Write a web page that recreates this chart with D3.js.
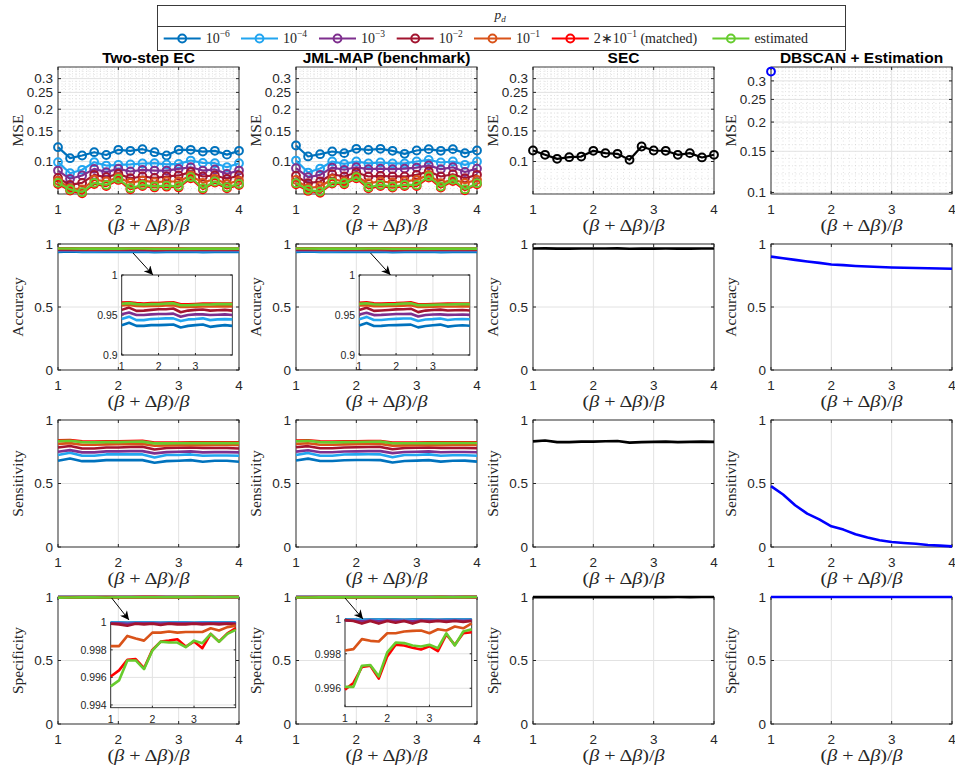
<!DOCTYPE html>
<meta charset="utf-8">
<head>
<script src="https://cdn.jsdelivr.net/npm/d3@7"></script>
<style>
body { margin:0; background:#fff; }
svg text { font-family: "Liberation Sans", Arial, Helvetica, sans-serif; fill:#262626; }
svg text.tex { font-family: "Liberation Serif", "Times New Roman", serif; }
</style>
</head>
<body>
<svg id="fig" width="955" height="769"></svg>
<script>

// ---- data ----
var betaRatio = [1, 1.2, 1.4, 1.6, 1.8, 2, 2.2, 2.4, 2.6, 2.8, 3, 3.2, 3.4, 3.6, 3.8, 4];

var methodTitles = ['Two-step EC', 'JML-MAP (benchmark)', 'SEC', 'DBSCAN + Estimation'];
var metricLabels = ['MSE', 'Accuracy', 'Sensitivity', 'Specificity'];

var legendBase   = ['10', '10', '10', '10', '10', '2\u221710', 'estimated'];
var legendExp    = ['\u22126', '\u22124', '\u22123', '\u22122', '\u22121', '\u22121', ''];
var legendSuffix = ['', '', '', '', '', ' (matched)', ''];
var seriesColors = ['#0072BD', '#22A5F0', '#7E2F8E', '#A2142F', '#D95319', '#FF0000', '#66CC2E'];

var xTicks = [1, 2, 3, 4];
var mseTicks = [0.1, 0.15, 0.2, 0.25, 0.3];
var mseTickLabels = ['0.1', '0.15', '0.2', '0.25', '0.3'];
var rateTicks = [0, 0.5, 1];
var rateTickLabels = ['0', '0.5', '1'];

// rows: 10^-6, 10^-4, 10^-3, 10^-2, 10^-1, 2*10^-1 (matched), estimated
var ecMSE = [
  [0.1209,0.1045,0.1083,0.1131,0.1090,0.1168,0.1152,0.1177,0.1131,0.1083,0.1168,0.1168,0.1140,0.1152,0.1095,0.1152],
  [0.0991,0.0856,0.0896,0.0991,0.0948,0.0957,0.0962,0.0974,0.0978,0.0962,0.0969,0.1013,0.0982,0.0978,0.0927,0.0978],
  [0.0887,0.0795,0.0831,0.0907,0.0868,0.0907,0.0876,0.0896,0.0887,0.0887,0.0907,0.0927,0.0887,0.0900,0.0849,0.0887],
  [0.0805,0.0733,0.0753,0.0838,0.0812,0.0849,0.0801,0.0820,0.0805,0.0820,0.0831,0.0868,0.0820,0.0831,0.0795,0.0831],
  [0.0777,0.0702,0.0690,0.0787,0.0767,0.0812,0.0753,0.0777,0.0760,0.0767,0.0767,0.0831,0.0753,0.0795,0.0743,0.0777],
  [0.0742,0.0680,0.0656,0.0742,0.0722,0.0783,0.0692,0.0722,0.0709,0.0716,0.0709,0.0800,0.0692,0.0756,0.0700,0.0732],
  [0.0753,0.0690,0.0666,0.0753,0.0733,0.0795,0.0702,0.0733,0.0720,0.0727,0.0720,0.0812,0.0702,0.0767,0.0711,0.0743]
];
var jmlMSE = [
  [0.1236,0.1069,0.1102,0.1142,0.1117,0.1183,0.1167,0.1183,0.1152,0.1107,0.1157,0.1178,0.1152,0.1178,0.1117,0.1157],
  [0.1013,0.0864,0.0911,0.1000,0.0969,0.1000,0.0975,0.0987,0.0975,0.0975,0.1000,0.1022,0.0987,0.1000,0.0957,0.1000],
  [0.0915,0.0812,0.0838,0.0923,0.0896,0.0927,0.0903,0.0910,0.0903,0.0910,0.0923,0.0950,0.0903,0.0927,0.0870,0.0910],
  [0.0827,0.0750,0.0767,0.0845,0.0820,0.0864,0.0820,0.0827,0.0820,0.0820,0.0838,0.0876,0.0820,0.0845,0.0801,0.0838],
  [0.0784,0.0702,0.0718,0.0791,0.0767,0.0820,0.0750,0.0767,0.0757,0.0767,0.0784,0.0838,0.0750,0.0791,0.0750,0.0784],
  [0.0739,0.0677,0.0661,0.0746,0.0739,0.0800,0.0700,0.0722,0.0707,0.0722,0.0722,0.0808,0.0707,0.0772,0.0683,0.0739],
  [0.0750,0.0687,0.0671,0.0757,0.0750,0.0812,0.0711,0.0733,0.0718,0.0733,0.0733,0.0820,0.0718,0.0784,0.0693,0.0750]
];
var secMSE = [0.1157,0.1093,0.1036,0.1059,0.1068,0.1152,0.1117,0.1107,0.1022,0.1220,0.1157,0.1152,0.1093,0.1117,0.1055,0.1093];
var dbMSE = [0.329,null,null,null,null,null,null,null,null,null,null,null,null,null,null,null];

var ecAcc = [
  [0.9373,0.9403,0.9364,0.9364,0.9373,0.9373,0.9377,0.9381,0.9343,0.9364,0.9373,0.9381,0.9352,0.9364,0.9373,0.9364],
  [0.9449,0.9479,0.9436,0.9436,0.9449,0.9453,0.9458,0.9458,0.9424,0.9445,0.9449,0.9458,0.9436,0.9445,0.9449,0.9445],
  [0.9508,0.9530,0.9500,0.9500,0.9508,0.9513,0.9513,0.9517,0.9479,0.9500,0.9508,0.9508,0.9500,0.9504,0.9508,0.9500],
  [0.9564,0.9593,0.9551,0.9555,0.9564,0.9572,0.9572,0.9581,0.9534,0.9555,0.9564,0.9568,0.9555,0.9559,0.9564,0.9555],
  [0.9620,0.9625,0.9612,0.9610,0.9612,0.9614,0.9618,0.9622,0.9600,0.9600,0.9603,0.9606,0.9606,0.9608,0.9608,0.9608],
  [0.9655,0.9660,0.9648,0.9644,0.9648,0.9648,0.9655,0.9660,0.9634,0.9634,0.9637,0.9642,0.9642,0.9644,0.9644,0.9644],
  [0.9640,0.9648,0.9636,0.9631,0.9636,0.9636,0.9644,0.9648,0.9622,0.9622,0.9627,0.9631,0.9631,0.9636,0.9636,0.9636]
];
var jmlAcc = [
  [0.9370,0.9400,0.9362,0.9364,0.9371,0.9374,0.9377,0.9380,0.9345,0.9362,0.9372,0.9380,0.9355,0.9365,0.9372,0.9366],
  [0.9447,0.9476,0.9437,0.9438,0.9447,0.9452,0.9456,0.9457,0.9426,0.9444,0.9448,0.9456,0.9438,0.9446,0.9448,0.9446],
  [0.9506,0.9528,0.9499,0.9501,0.9507,0.9512,0.9512,0.9516,0.9481,0.9500,0.9507,0.9508,0.9501,0.9504,0.9507,0.9501],
  [0.9562,0.9590,0.9551,0.9556,0.9563,0.9570,0.9571,0.9579,0.9536,0.9555,0.9563,0.9567,0.9556,0.9559,0.9563,0.9556],
  [0.9618,0.9623,0.9611,0.9610,0.9612,0.9613,0.9617,0.9621,0.9601,0.9601,0.9603,0.9606,0.9606,0.9607,0.9608,0.9608],
  [0.9653,0.9658,0.9647,0.9644,0.9647,0.9648,0.9654,0.9658,0.9635,0.9635,0.9637,0.9641,0.9642,0.9643,0.9644,0.9644],
  [0.9639,0.9646,0.9635,0.9631,0.9635,0.9636,0.9643,0.9647,0.9623,0.9623,0.9627,0.9631,0.9631,0.9635,0.9636,0.9636]
];
var secAcc = [0.964,0.965,0.963,0.963,0.964,0.964,0.964,0.965,0.962,0.963,0.963,0.964,0.963,0.963,0.964,0.964];
var dbAcc = [0.900,0.887,0.874,0.861,0.850,0.837,0.832,0.826,0.821,0.817,0.813,0.811,0.809,0.807,0.805,0.803];

var ecSens = [
  [0.679,0.697,0.676,0.676,0.684,0.684,0.684,0.684,0.663,0.676,0.679,0.684,0.671,0.679,0.679,0.671],
  [0.724,0.742,0.718,0.718,0.729,0.729,0.729,0.729,0.705,0.724,0.724,0.729,0.718,0.721,0.721,0.718],
  [0.750,0.763,0.745,0.745,0.753,0.753,0.755,0.755,0.737,0.747,0.750,0.753,0.745,0.747,0.747,0.745],
  [0.784,0.795,0.776,0.776,0.784,0.784,0.787,0.789,0.768,0.779,0.782,0.784,0.779,0.779,0.779,0.776],
  [0.812,0.818,0.805,0.805,0.808,0.810,0.810,0.812,0.797,0.800,0.801,0.802,0.802,0.803,0.803,0.803],
  [0.840,0.842,0.832,0.830,0.832,0.832,0.834,0.836,0.822,0.822,0.823,0.824,0.824,0.824,0.824,0.824],
  [0.834,0.837,0.826,0.824,0.826,0.826,0.829,0.830,0.816,0.816,0.817,0.818,0.818,0.818,0.818,0.818]
];
var jmlSens = [
  [0.681,0.696,0.677,0.677,0.683,0.685,0.685,0.684,0.665,0.677,0.680,0.684,0.672,0.679,0.680,0.672],
  [0.725,0.741,0.719,0.719,0.728,0.729,0.730,0.729,0.707,0.724,0.725,0.729,0.719,0.722,0.722,0.719],
  [0.751,0.762,0.746,0.746,0.752,0.753,0.755,0.755,0.739,0.748,0.750,0.753,0.746,0.748,0.748,0.746],
  [0.785,0.794,0.777,0.777,0.784,0.785,0.787,0.788,0.770,0.780,0.782,0.784,0.779,0.780,0.780,0.777],
  [0.812,0.817,0.805,0.805,0.808,0.810,0.811,0.812,0.798,0.800,0.801,0.802,0.802,0.803,0.803,0.803],
  [0.839,0.841,0.832,0.830,0.832,0.833,0.834,0.835,0.822,0.823,0.823,0.824,0.824,0.825,0.825,0.825],
  [0.833,0.836,0.826,0.824,0.826,0.827,0.829,0.830,0.817,0.817,0.817,0.818,0.818,0.819,0.819,0.819]
];
var secSens = [0.832,0.838,0.826,0.826,0.830,0.830,0.833,0.835,0.822,0.826,0.828,0.830,0.826,0.828,0.830,0.828];
var dbSens = [0.479,0.413,0.329,0.263,0.218,0.163,0.137,0.100,0.074,0.053,0.039,0.032,0.026,0.016,0.011,0.005];

var ecSpec = [
  [0.99998,0.99998,0.99997,0.99998,0.99998,0.99998,0.99997,0.99998,0.99998,0.99998,0.99997,0.99998,0.99998,0.99998,0.99998,0.99998],
  [0.99996,0.99996,0.99995,0.99996,0.99996,0.99996,0.99995,0.99996,0.99996,0.99996,0.99995,0.99996,0.99996,0.99996,0.99996,0.99996],
  [0.99993,0.99992,0.99990,0.99993,0.99992,0.99993,0.99991,0.99993,0.99992,0.99992,0.99993,0.99992,0.99993,0.99992,0.99993,0.99992],
  [0.99990,0.99985,0.99975,0.99990,0.99985,0.99990,0.99980,0.99990,0.99985,0.99985,0.99990,0.99985,0.99990,0.99985,0.99990,0.99985],
  [0.99827,0.99827,0.99901,0.99882,0.99867,0.99925,0.99925,0.99933,0.99925,0.99930,0.99930,0.99930,0.99957,0.99940,0.99965,0.99976],
  [0.99607,0.99651,0.99728,0.99733,0.99667,0.99800,0.99860,0.99867,0.99877,0.99824,0.99860,0.99812,0.99916,0.99860,0.99920,0.99957],
  [0.99535,0.99578,0.99723,0.99723,0.99660,0.99795,0.99860,0.99853,0.99853,0.99819,0.99867,0.99848,0.99916,0.99858,0.99916,0.99945]
];
var jmlSpec = [
  [0.99998,0.99998,0.99997,0.99998,0.99998,0.99998,0.99998,0.99997,0.99998,0.99998,0.99998,0.99997,0.99998,0.99998,0.99998,0.99998],
  [0.99996,0.99996,0.99995,0.99996,0.99995,0.99996,0.99996,0.99995,0.99996,0.99996,0.99996,0.99995,0.99996,0.99996,0.99996,0.99996],
  [0.99993,0.99992,0.99988,0.99993,0.99989,0.99993,0.99991,0.99992,0.99989,0.99993,0.99992,0.99993,0.99992,0.99993,0.99992,0.99993],
  [0.99995,0.99990,0.99975,0.99990,0.99975,0.99990,0.99980,0.99990,0.99975,0.99990,0.99985,0.99990,0.99985,0.99990,0.99985,0.99990],
  [0.99819,0.99827,0.99885,0.99875,0.99871,0.99919,0.99919,0.99929,0.99933,0.99935,0.99919,0.99942,0.99935,0.99958,0.99948,0.99977],
  [0.99592,0.99631,0.99723,0.99731,0.99656,0.99785,0.99852,0.99848,0.99835,0.99825,0.99844,0.99815,0.99912,0.99852,0.99919,0.99925],
  [0.99608,0.99608,0.99731,0.99735,0.99669,0.99808,0.99865,0.99862,0.99848,0.99842,0.99852,0.99833,0.99919,0.99848,0.99929,0.99942]
];
var secSpec = [0.9990,0.9991,0.9992,0.9992,0.9991,0.9993,0.9993,0.9994,0.9993,0.9993,0.9993,0.9994,0.9995,0.9994,0.9995,0.9996];
var dbSpec = [0.99995,0.99995,0.99995,0.99996,0.99996,0.99996,0.99996,0.99997,0.99997,0.99997,0.99997,0.99998,0.99998,0.99998,0.99998,0.99998];

// ---- layout ----
var svg = d3.select('#fig');
var colX = [58, 296, 533, 771], panW = 181;
var rowTop = [67, 244, 420, 597], rowBot = [194, 370, 547, 724];
var axisCol = '#262626', gridCol = '#e2e2e2', minorCol = '#cfcfcf';

svg.append('defs').append('marker')
   .attr('id', 'arr').attr('viewBox', '0 0 10 10').attr('refX', 10).attr('refY', 5)
   .attr('markerUnits', 'userSpaceOnUse').attr('markerWidth', 11).attr('markerHeight', 9)
   .attr('orient', 'auto')
 .append('path').attr('d', 'M0,0 L10,5 L0,10 L3,5 z').attr('fill', '#000');

// frame, grid and tick labels of one axes
function drawAxes(g, x, y, o) {
  var x0 = x.range()[0], x1 = x.range()[1], yb = y.range()[0], yt = y.range()[1];
  g.append('rect').attr('x', x0).attr('y', yt).attr('width', x1 - x0).attr('height', yb - yt).attr('fill', '#fff');

  if (o.minorX) {
    g.selectAll(null).data(o.minorX).join('line')
      .attr('x1', d => x(d)).attr('x2', d => x(d)).attr('y1', yt).attr('y2', yb)
      .attr('stroke', minorCol).attr('stroke-width', 0.6).attr('stroke-dasharray', '1,2.5');
    g.selectAll(null).data(o.minorY).join('line')
      .attr('y1', d => y(d)).attr('y2', d => y(d)).attr('x1', x0).attr('x2', x1)
      .attr('stroke', minorCol).attr('stroke-width', 0.6).attr('stroke-dasharray', '1,2.5');
  }
  g.selectAll(null).data(o.xTicks).join('line')
    .attr('x1', d => x(d)).attr('x2', d => x(d)).attr('y1', yt).attr('y2', yb)
    .attr('stroke', gridCol).attr('stroke-width', 1);
  g.selectAll(null).data(o.yTicks).join('line')
    .attr('y1', d => y(d)).attr('y2', d => y(d)).attr('x1', x0).attr('x2', x1)
    .attr('stroke', gridCol).attr('stroke-width', 1);

  // inward ticks
  var tl = o.tickLen || 3;
  o.xTicks.forEach(function(t) {
    g.append('line').attr('x1', x(t)).attr('x2', x(t)).attr('y1', yb).attr('y2', yb - tl).attr('stroke', axisCol);
    g.append('line').attr('x1', x(t)).attr('x2', x(t)).attr('y1', yt).attr('y2', yt + tl).attr('stroke', axisCol);
  });
  o.yTicks.forEach(function(t) {
    g.append('line').attr('y1', y(t)).attr('y2', y(t)).attr('x1', x0).attr('x2', x0 + tl).attr('stroke', axisCol);
    g.append('line').attr('y1', y(t)).attr('y2', y(t)).attr('x1', x1).attr('x2', x1 - tl).attr('stroke', axisCol);
  });

  g.append('rect').attr('x', x0).attr('y', yt).attr('width', x1 - x0).attr('height', yb - yt)
    .attr('fill', 'none').attr('stroke', axisCol).attr('stroke-width', 0.9);

  g.selectAll(null).data(o.xTicks).join('text')
    .attr('x', d => x(d)).attr('y', yb + o.xLabOff).attr('text-anchor', 'middle')
    .attr('font-size', o.fs).text((d, i) => o.xTickLabels[i]);
  g.selectAll(null).data(o.yTicks).join('text')
    .attr('x', x0 - o.yLabOff).attr('y', d => y(d)).attr('dy', '0.36em').attr('text-anchor', 'end')
    .attr('font-size', o.fs).text((d, i) => o.yTickLabels[i]);
}

function drawSeries(g, x, y, vals, color, lw, withMarker) {
  var pts = betaRatio.map((b, i) => [b, vals[i]]);
  var line = d3.line().defined(d => d[1] != null).x(d => x(d[0])).y(d => y(d[1]));
  g.append('path').datum(pts).attr('d', line).attr('fill', 'none')
    .attr('stroke', color).attr('stroke-width', lw).attr('stroke-linejoin', 'round');
  if (withMarker) {
    g.selectAll(null).data(pts.filter(d => d[1] != null)).join('circle')
      .attr('cx', d => x(d[0])).attr('cy', d => y(d[1])).attr('r', 3.9)
      .attr('fill', 'none').attr('stroke', color).attr('stroke-width', 2);
  }
}

function xLabel(g, cx, yb) {
  g.append('text').attr('class', 'tex').attr('x', cx).attr('y', yb + 37)
    .attr('text-anchor', 'middle').attr('font-size', 16)
    .attr('textLength', 82).attr('lengthAdjust', 'spacingAndGlyphs')
    .html('(<tspan font-style="italic">\u03b2</tspan> + \u0394<tspan font-style="italic">\u03b2</tspan>)/<tspan font-style="italic">\u03b2</tspan>');
}

function yLabel(g, x0, yt, yb, txt) {
  var cy = (yt + yb) / 2, cx = x0 - 35;
  g.append('text').attr('class', 'tex').attr('transform', 'translate(' + cx + ',' + cy + ') rotate(-90)')
    .attr('text-anchor', 'middle').attr('font-size', 15.5).text(txt);
}

var mseMinorY = d3.range(7, 35).map(v => v / 100).filter(v => mseTicks.indexOf(v) < 0);
var minorX = d3.range(11, 40).map(v => v / 10).filter(v => v % 1 !== 0);

var mseData = [ecMSE, jmlMSE, [secMSE], [dbMSE]];
var accData = [ecAcc, jmlAcc, [secAcc], [dbAcc]];
var sensData = [ecSens, jmlSens, [secSens], [dbSens]];
var specData = [ecSpec, jmlSpec, [secSpec], [dbSpec]];
var metricData = [mseData, accData, sensData, specData];
var singleColors = [null, null, '#000000', '#0000FF'];

for (var c = 0; c < 4; c++) {
  for (var r = 0; r < 4; r++) {
    var g = svg.append('g');
    var x = d3.scaleLinear().domain([1, 4]).range([colX[c], colX[c] + panW]);
    var y, opts;
    if (r === 0) {
      var dom = c === 3 ? [0.0985, 0.344] : [0.065, 0.35];
      y = d3.scaleLog().domain(dom).range([rowBot[r], rowTop[r]]);
      opts = { xTicks: xTicks, xTickLabels: ['1', '2', '3', '4'], yTicks: mseTicks, yTickLabels: mseTickLabels,
               minorX: minorX, minorY: mseMinorY.filter(v => v >= dom[0] && v <= dom[1]),
               fs: 13.5, xLabOff: 20, yLabOff: 5 };
    } else {
      y = d3.scaleLinear().domain([0, 1]).range([rowBot[r], rowTop[r]]);
      opts = { xTicks: xTicks, xTickLabels: ['1', '2', '3', '4'], yTicks: rateTicks, yTickLabels: rateTickLabels,
               fs: 13.5, xLabOff: 20, yLabOff: 5 };
    }
    drawAxes(g, x, y, opts);
    var sets = metricData[r][c];
    sets.forEach(function(vals, k) {
      var col = singleColors[c] || seriesColors[k];
      drawSeries(g, x, y, vals, col, r === 0 ? 2.2 : 2.6, r === 0);
    });
    xLabel(g, colX[c] + panW / 2, rowBot[r]);
    yLabel(g, colX[c], rowTop[r], rowBot[r], metricLabels[r]);
    if (r === 0) {
      g.append('text').attr('x', colX[c] + panW / 2).attr('y', rowTop[0] - 4)
        .attr('text-anchor', 'middle').attr('font-size', 15.5).attr('font-weight', 'bold')
        .style('fill', '#000').text(methodTitles[c]);
    }
  }
}

// ---- zoomed insets ----
var insets = [
  { data: ecAcc,  x: [121.7, 232.3], y: [355, 275], dom: [0.9, 1], ticks: [0.9, 0.95, 1], labels: ['0.9', '0.95', '1'],
    arrow: [133, 253, 153, 275] },
  { data: jmlAcc, x: [359.2, 469.8], y: [355, 275], dom: [0.9, 1], ticks: [0.9, 0.95, 1], labels: ['0.9', '0.95', '1'],
    arrow: [370.5, 253, 390.5, 275] },
  { data: ecSpec, x: [110.7, 235.7], y: [707.7, 622.3], dom: [0.9938, 1], ticks: [0.994, 0.996, 0.998, 1],
    labels: ['0.994', '0.996', '0.998', '1'], arrow: [111.7, 598, 129, 620] },
  { data: jmlSpec, x: [345, 471.7], y: [706.7, 619.3], dom: [0.99493, 1], ticks: [0.996, 0.998, 1],
    labels: ['0.996', '0.998', '1'], arrow: [345, 598, 363, 619] }
];

insets.forEach(function(ins) {
  var g = svg.append('g');
  var x = d3.scaleLinear().domain([1, 4]).range(ins.x);
  var y = d3.scaleLinear().domain(ins.dom).range(ins.y);
  drawAxes(g, x, y, { xTicks: [1, 2, 3], xTickLabels: ['1', '2', '3'], yTicks: ins.ticks, yTickLabels: ins.labels,
                      fs: 10.5, xLabOff: 15, yLabOff: 4, tickLen: 2 });
  ins.data.forEach(function(vals, k) {
    drawSeries(g, x, y, vals, seriesColors[k], 2.6, false);
  });
  var a = ins.arrow;
  svg.append('line').attr('x1', a[0]).attr('y1', a[1]).attr('x2', a[2]).attr('y2', a[3])
    .attr('stroke', '#000').attr('stroke-width', 1).attr('marker-end', 'url(#arr)');
});

// ---- legend ----
var lg = svg.append('g');
lg.append('rect').attr('x', 157.5).attr('y', 5.5).attr('width', 688).attr('height', 45)
  .attr('fill', '#fff').attr('stroke', axisCol).attr('stroke-width', 0.9);
lg.append('line').attr('x1', 157.5).attr('x2', 845.5).attr('y1', 26.5).attr('y2', 26.5)
  .attr('stroke', axisCol).attr('stroke-width', 0.9);
lg.append('text').attr('class', 'tex').attr('x', 500).attr('y', 19).attr('text-anchor', 'middle')
  .attr('font-size', 13.5)
  .html('<tspan font-style="italic">p</tspan><tspan font-style="italic" font-size="9" dy="3">d</tspan>');

var legendLineX = [163.7, 241, 319, 396.7, 474, 551.8, 712.4];
legendBase.forEach(function(lab, k) {
  var lx = legendLineX[k], ly = 38.5;
  lg.append('line').attr('x1', lx).attr('x2', lx + 37).attr('y1', ly).attr('y2', ly)
    .attr('stroke', seriesColors[k]).attr('stroke-width', 2.2);
  lg.append('circle').attr('cx', lx + 18.5).attr('cy', ly).attr('r', 3.9)
    .attr('fill', 'none').attr('stroke', seriesColors[k]).attr('stroke-width', 2);
  var t = lg.append('text').attr('class', 'tex').attr('x', lx + 42).attr('y', ly + 4.5).attr('font-size', 14);
  t.append('tspan').text(lab);
  if (legendExp[k]) {
    t.append('tspan').attr('font-size', 9.5).attr('dy', -6).text(legendExp[k]);
    if (legendSuffix[k]) t.append('tspan').attr('dy', 6).text(legendSuffix[k]);
  }
});

</script>
</body>
